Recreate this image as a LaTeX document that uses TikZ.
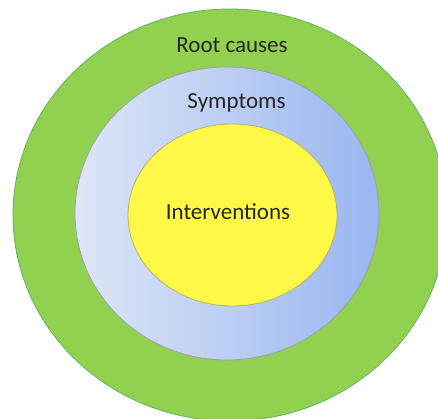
\documentclass[tikz,border=0pt]{standalone}
\usepackage{fontspec}
\setmainfont{Carlito}
\usetikzlibrary{shapes.geometric}
\definecolor{rootgreen}{HTML}{92D050}
\definecolor{rootedge}{HTML}{5CB85C}
\definecolor{symleft}{HTML}{DEE6F7}
\definecolor{symright}{HTML}{98B6F0}
\definecolor{ringedge}{HTML}{A0A0A8}
\definecolor{intyellow}{HTML}{FFF847}
\definecolor{intedge}{HTML}{B8B070}
\begin{document}
\begin{tikzpicture}[x=1pt,y=-1pt,
  ring/.style={ellipse, inner sep=0pt, outer sep=0pt},
  lbl/.style={font=\fontsize{23}{26}\selectfont, text=black!85}]
  \useasboundingbox[fill=white] (0,0) rectangle (438,419);
  \begin{scope}
    \clip (0,0) rectangle (438,419);
    % outer ring
    \node[ring, draw=rootedge, line width=0.8pt, fill=rootgreen,
          minimum width=434pt, minimum height=412pt] (root) at (230,215) {};
    % middle ring with horizontal gradient
    \node[ring, draw=ringedge, line width=0.8pt, left color=symleft, right color=symright,
          minimum width=304pt, minimum height=293pt] (sym) at (227,213.5) {};
    % inner ellipse
    \node[ring, draw=intedge, line width=0.8pt, fill=intyellow,
          minimum width=209pt, minimum height=182pt] (int) at (232.5,215) {};
  \end{scope}
  \node[lbl] (rootlbl) at (232,45) {Root causes};
  \node[lbl] (symlbl) at (236.5,103) {Symptoms};
  \node[lbl] (intlbl) at (228,212) {Interventions};
\end{tikzpicture}
\end{document}
